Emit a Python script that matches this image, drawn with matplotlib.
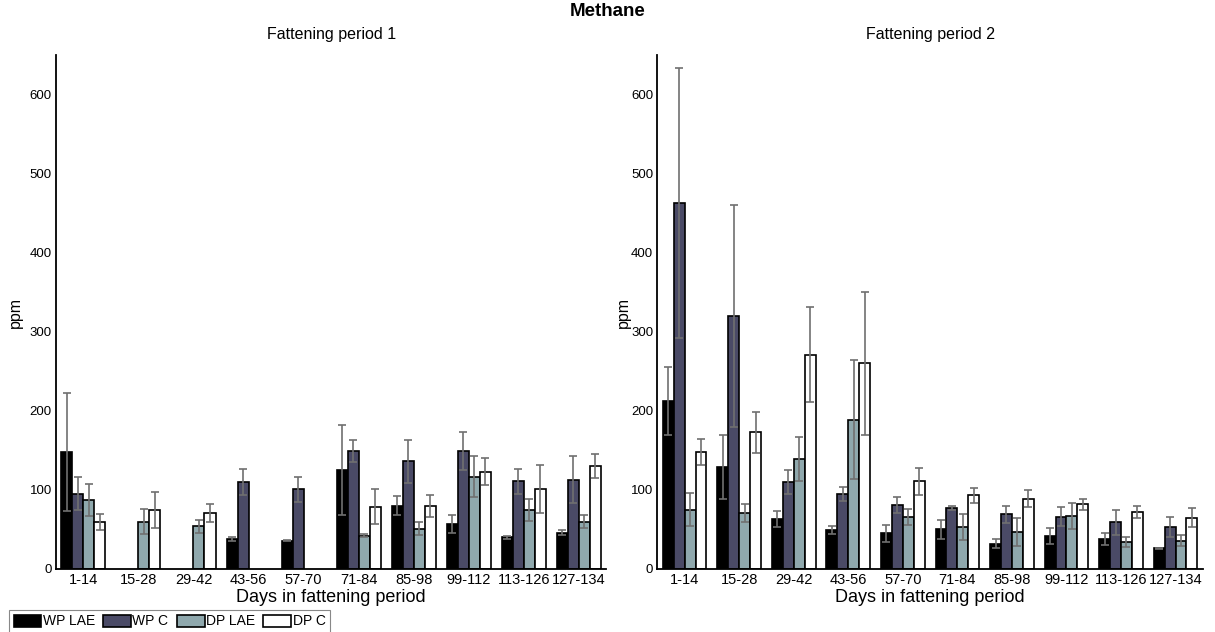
import numpy as np
import matplotlib
matplotlib.use("Agg")
import matplotlib.pyplot as plt

plt.rcParams['font.family'] = ['Liberation Sans', 'DejaVu Sans']

#%% data (ppm, mean and error)
days = ['1-14', '15-28', '29-42', '43-56', '57-70', '71-84',
        '85-98', '99-112', '113-126', '127-134']
groups = ['WP LAE', 'WP C', 'DP LAE', 'DP C']
colors = ['#000000', '#4a4a66', '#8fa8ad', '#ffffff']

nan = np.nan
# fattening period 1
p1_wp_lae = [148, nan, nan, 38, 36, 125, 80, 57, 40, 46]
p1_wp_c = [95, nan, nan, 110, 101, 149, 136, 149, 111, 113]
p1_dp_lae = [87, 60, 54, nan, nan, 42, 51, 117, 75, 60]
p1_dp_c = [59, 75, 71, nan, nan, 79, 80, 123, 101, 130]
p1_wp_lae_err = [75, nan, nan, 2, 1, 57, 12, 11, 2, 3]
p1_wp_c_err = [21, nan, nan, 17, 16, 14, 27, 24, 16, 30]
p1_dp_lae_err = [20, 16, 8, nan, nan, 2, 8, 26, 14, 8]
p1_dp_c_err = [10, 23, 11, nan, nan, 22, 14, 17, 30, 15]

# fattening period 2
p2_wp_lae = [213, 129, 63, 49, 45, 50, 32, 42, 38, 26]
p2_wp_c = [463, 320, 110, 95, 81, 77, 69, 66, 59, 53]
p2_dp_lae = [75, 71, 139, 189, 66, 53, 47, 67, 34, 36]
p2_dp_c = [148, 173, 271, 260, 111, 93, 89, 82, 72, 65]
p2_wp_lae_err = [43, 40, 10, 5, 11, 12, 6, 10, 8, 1]
p2_wp_c_err = [171, 141, 15, 9, 10, 3, 11, 12, 16, 13]
p2_dp_lae_err = [21, 11, 28, 75, 10, 16, 18, 17, 6, 7]
p2_dp_c_err = [17, 26, 60, 91, 17, 9, 11, 7, 8, 12]

period1 = [(p1_wp_lae, p1_wp_lae_err), (p1_wp_c, p1_wp_c_err),
           (p1_dp_lae, p1_dp_lae_err), (p1_dp_c, p1_dp_c_err)]
period2 = [(p2_wp_lae, p2_wp_lae_err), (p2_wp_c, p2_wp_c_err),
           (p2_dp_lae, p2_dp_lae_err), (p2_dp_c, p2_dp_c_err)]

#%% plot
fig = plt.figure(figsize=(12.15, 6.32), dpi=100)
ax1 = fig.add_axes([0.046, 0.0997, 0.453, 0.813])
ax2 = fig.add_axes([0.541, 0.0997, 0.449, 0.813])

x = np.arange(len(days))
w = 0.2

for ax, series, sub, ylx in [(ax1, period1, 'Fattening period 1', -0.06),
                             (ax2, period2, 'Fattening period 2', -0.049)]:
    for i, (vals, err) in enumerate(series):
        pos = x + (i - 1.5) * w
        ax.bar(pos, vals, w, color=colors[i], edgecolor='black',
               linewidth=1.2, label=groups[i], zorder=2)
        ax.errorbar(pos, vals, yerr=err, fmt='none', ecolor='#707070',
                    elinewidth=1.2, capsize=3, capthick=1.2, zorder=3)
    ax.set_xlim(-0.5, 9.5)
    ax.set_ylim(0, 650)
    ax.set_yticks([0, 100, 200, 300, 400, 500, 600])
    ax.set_xticks(x)
    ax.set_xticklabels(days)
    ax.tick_params(length=0, labelsize=9.5, pad=3)
    ax.tick_params(axis='x', labelsize=10.5)
    ax.spines['top'].set_visible(False)
    ax.spines['right'].set_visible(False)
    ax.spines['left'].set_linewidth(1.3)
    ax.spines['bottom'].set_linewidth(1.3)
    ax.set_ylabel('ppm', fontsize=11.5)
    ax.yaxis.set_label_coords(ylx, 0.5)
    ax.set_xlabel('Days in fattening period', fontsize=13, labelpad=1)
    ax.set_title(sub, fontsize=11.5, pad=12)

fig.suptitle('Methane', fontsize=13.5, fontweight='bold', y=0.995)

handles, labels = ax1.get_legend_handles_labels()
leg = fig.legend(handles, labels, loc='lower left', bbox_to_anchor=(0.002, -0.012),
                 ncol=4, fontsize=10, handlelength=2.0, handleheight=1.0,
                 handletextpad=0.1, columnspacing=0.6, borderpad=0.3,
                 fancybox=False, edgecolor='#888888', framealpha=1)
leg.get_frame().set_linewidth(0.8)

fig.savefig('out.png', dpi=100)
